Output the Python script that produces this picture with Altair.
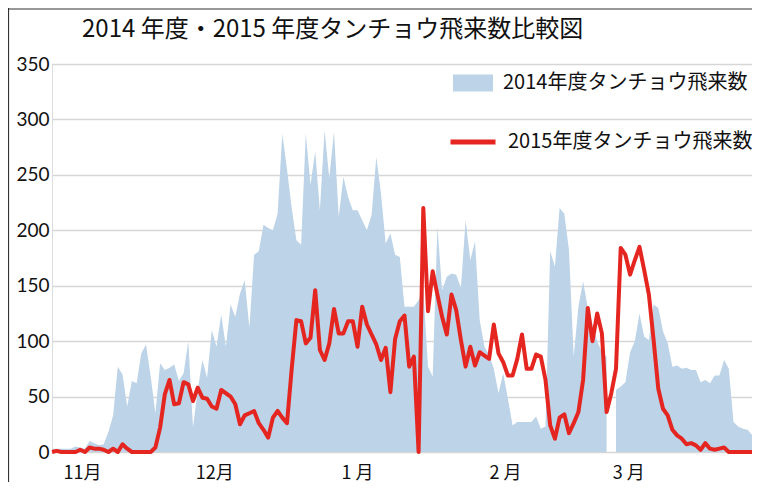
import altair as alt
import pandas as pd

# ---- data ----
series_2014 = "2014年度タンチョウ飛来数"
series_2015 = "2015年度タンチョウ飛来数"

counts_2014 = [
    3, 3, 3, 3, 3, 5, 4, 3, 10, 8,
    6, 7, 18, 33, 77, 70, 41, 64, 62, 89,
    97, 68, 35, 80, 74, 76, 79, 64, 71, 100,
    22, 56, 83, 67, 110, 95, 124, 95, 133, 122,
    143, 155, 112, 178, 181, 205, 202, 200, 215, 287,
    255, 220, 191, 187, 287, 241, 271, 218, 290, 247,
    289, 212, 248, 230, 218, 218, 209, 200, 214, 266,
    233, 188, 197, 178, 176, 131, 131, 131, 137, 146,
    77, 68, 203, 146, 158, 161, 160, 148, 209, 173,
    190, 119, 95, 88, 75, 53, 71, 48, 24, 27,
    27, 27, 27, 32, 21, 23, 181, 167, 220, 215,
    182, 86, 131, 154, 130, 115, 100, 90, 86, None,
    56, 59, 63, 90, 100, 125, 104, 101, 133, 130,
    109, 98, 77, 78, 75, 76, 74, 74, 63, 65,
    62, 69, 69, 83, 75, 27, 23, 21, 20, 15,
    11,
]

counts_2015 = [
    0, 1, 0, 0, 0, 0, 2, 0, 4, 3,
    3, 2, 0, 3, 0, 7, 3, 0, 0, 0,
    0, 0, 4, 22, 52, 65, 43, 44, 63, 61,
    46, 58, 49, 48, 41, 39, 56, 53, 50, 43,
    25, 33, 35, 37, 26, 20, 13, 31, 37, 31,
    26, 75, 119, 118, 98, 103, 146, 92, 83, 98,
    129, 107, 107, 118, 118, 95, 131, 115, 106, 97,
    83, 94, 54, 102, 118, 123, 77, 86, 0, 220,
    127, 163, 142, 122, 106, 142, 128, 101, 77, 95,
    78, 90, 87, 84, 115, 89, 81, 69, 69, 84,
    106, 75, 75, 88, 86, 65, 24, 12, 31, 34,
    17, 26, 36, 65, 130, 100, 125, 107, 36, 53,
    75, 184, 178, 160, 173, 185, 164, 142, 101, 57,
    39, 33, 20, 15, 12, 7, 8, 6, 2, 8,
    3, 2, 3, 4, 0, 0, 0, 0, 0, 0,
    0,
]

month_labels = ["11月", "12月", "1 月", "2 月", "3 月"]
month_label_days = [6.4, 34.5, 64.9, 96.4, 122.6]
y_ticks = [0, 50, 100, 150, 200, 250, 300, 350]

title_text = "2014 年度・2015 年度タンチョウ飛来数比較図"

# ---- tables ----
df14 = pd.DataFrame({"day": list(range(len(counts_2014))),
                     "count": counts_2014,
                     "series": series_2014})
df15 = pd.DataFrame({"day": list(range(len(counts_2015))),
                     "count": counts_2015,
                     "series2": series_2015})

BLUE = "#bcd3e8"
RED = "#e52620"
JP = "Noto Sans CJK JP"

PLOT_W = 700
PLOT_H = 388
FULL_SPAN_PX = 705  # pixel span of the 150 day steps in the reference
x_max = 150 * PLOT_W / FULL_SPAN_PX

label_expr = " : ".join(
    f"datum.value < {d + 1} ? '{lab}'" for d, lab in zip(month_label_days, month_labels)
) + " : ''"

x_enc = alt.X(
    "day:Q",
    scale=alt.Scale(domain=[0, x_max], nice=False, zero=False),
    axis=alt.Axis(values=month_label_days, labelExpr=label_expr, title=None,
                  grid=False, ticks=False, tickSize=0, domain=False,
                  labelFont=JP, labelFontSize=18, labelColor="#111111",
                  labelPadding=12, labelFlush=False),
)
y_enc = alt.Y(
    "count:Q",
    scale=alt.Scale(domain=[0, 350], nice=False),
    axis=alt.Axis(values=y_ticks, title=None, grid=True, gridColor="#d6d6d6",
                  gridWidth=1.6, ticks=False, tickSize=0, domain=False,
                  labelFont="Lato", labelFontSize=19, labelColor="#111111",
                  labelPadding=3),
)

area = alt.Chart(df14).mark_area(opacity=1, interpolate="linear").encode(
    x=x_enc,
    y=y_enc,
    fill=alt.Fill(
        "series:N",
        scale=alt.Scale(domain=[series_2014], range=[BLUE]),
        legend=alt.Legend(
            title=None, orient="none", legendX=401, legendY=-1, padding=0,
            symbolType="M-1,-0.42L1,-0.42L1,0.42L-1,0.42Z", symbolSize=1600,
            symbolStrokeWidth=0, symbolOpacity=1, labelLimit=0,
            labelFont=JP, labelFontSize=20, labelColor="#111111", labelOffset=10,
        ),
    ),
)

line = alt.Chart(df15).mark_line(strokeWidth=4, interpolate="linear",
                                  strokeJoin="round").encode(
    x=alt.X("day:Q"),
    y=alt.Y("count:Q"),
    stroke=alt.Stroke(
        "series2:N",
        scale=alt.Scale(domain=[series_2015], range=[RED]),
        legend=alt.Legend(
            title=None, orient="none", legendX=396, legendY=53, padding=0,
            symbolType="stroke", symbolSize=2025, symbolStrokeWidth=5,
            labelLimit=0,
            labelFont=JP, labelFontSize=20, labelColor="#111111", labelOffset=10,
        ),
    ),
)

frame_df = pd.DataFrame({"k": [0]})
title_mark = alt.Chart(frame_df).mark_text(
    text=title_text, align="left", baseline="middle", font=JP, fontSize=24,
    color="#111111",
).encode(x=alt.value(30), y=alt.value(-34))

top_border = alt.Chart(frame_df).mark_rule(color="#333333", strokeWidth=1.2).encode(
    x=alt.value(-44), x2=alt.value(PLOT_W), y=alt.value(-55))
left_border = alt.Chart(frame_df).mark_rule(color="#333333", strokeWidth=1.2).encode(
    x=alt.value(-43.5), y=alt.value(-56), y2=alt.value(418))

chart = alt.layer(area, line, title_mark, top_border, left_border).properties(
    width=PLOT_W,
    height=PLOT_H,
    padding={"left": 44, "top": 56, "right": 0, "bottom": 30},
    autosize=alt.AutoSizeParams(type="none"),
).configure_view(stroke=None).configure(background="white")

chart.save("out.html", embed_options={"renderer": "svg", "actions": False})
